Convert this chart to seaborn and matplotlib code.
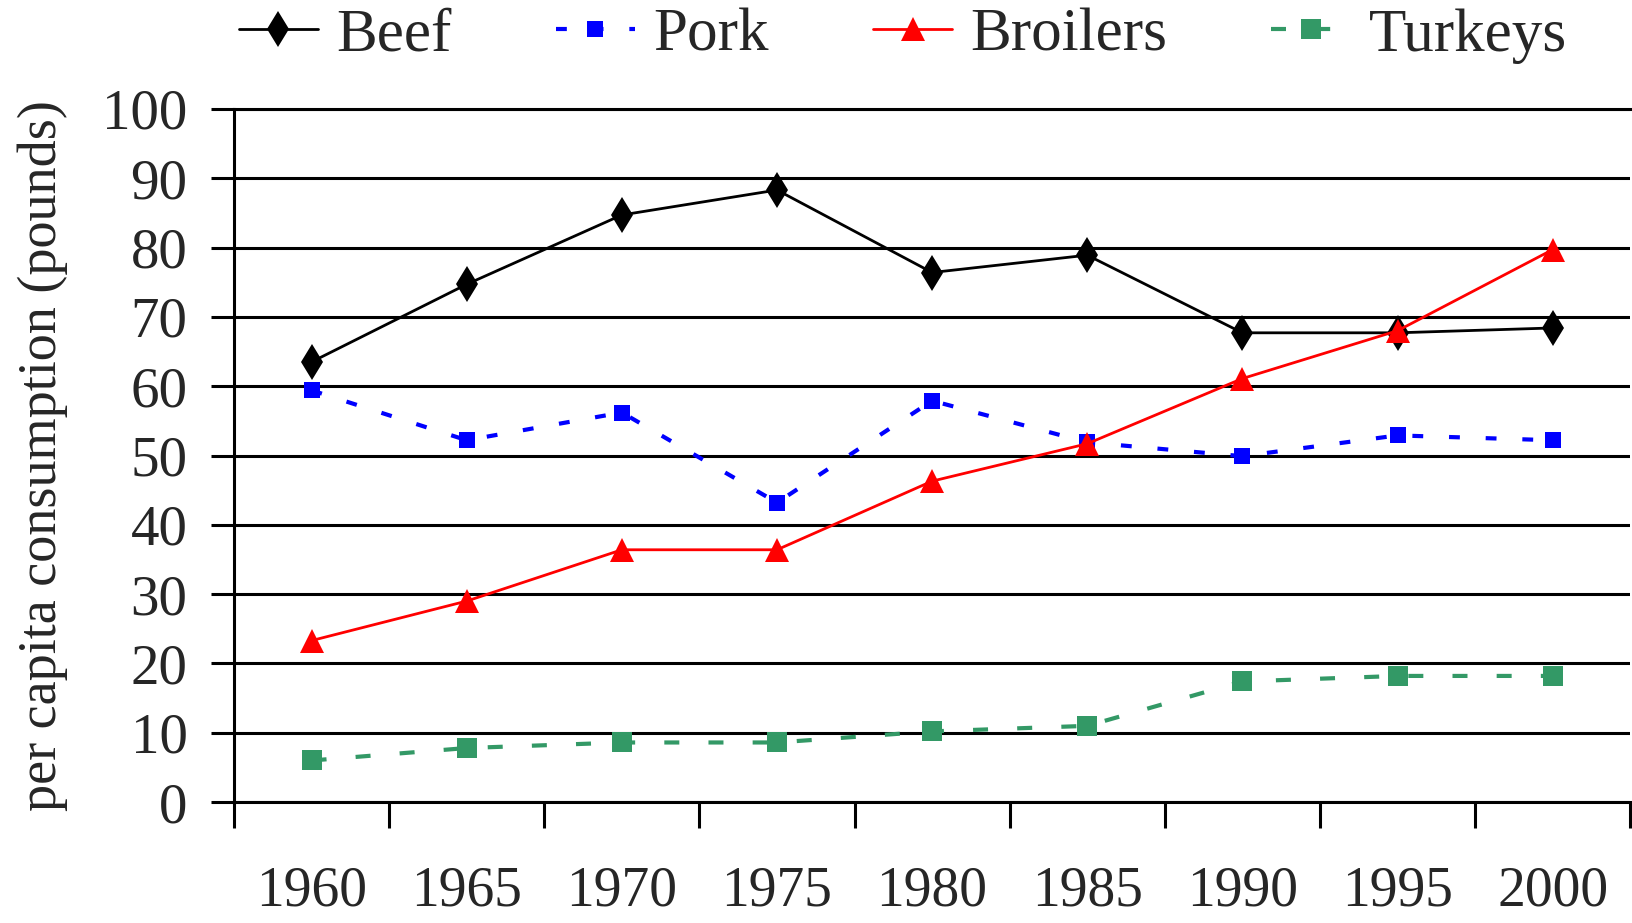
import matplotlib
matplotlib.use("Agg")
import matplotlib.pyplot as plt
import seaborn as sns
import pandas as pd
from matplotlib.ticker import FixedLocator, NullFormatter

years = ["1960", "1965", "1970", "1975", "1980", "1985", "1990", "1995", "2000"]
beef = [63.5, 74.7, 84.7, 88.3, 76.4, 78.9, 67.7, 67.7, 68.4]
pork = [59.4, 52.2, 56.2, 43.2, 57.9, 51.9, 49.9, 52.9, 52.2]
broilers = [23.3, 29.0, 36.4, 36.4, 46.3, 51.7, 61.1, 68.0, 79.7]
turkeys = [6.0, 7.8, 8.6, 8.6, 10.2, 11.0, 17.4, 18.2, 18.2]
series_names = ["Beef", "Pork", "Broilers", "Turkeys"]
y_ticks = [0, 10, 20, 30, 40, 50, 60, 70, 80, 90, 100]

sns.set_style("white")
plt.rcParams["font.family"] = ["Liberation Serif", "DejaVu Serif"]

fig = plt.figure(figsize=(16.33, 9.23), dpi=100)
ax = fig.add_axes([0.1433, 0.131, 0.855, 0.751])

styles = {
    "Beef": dict(color="black", marker="d", markersize=18, lw=2.0, ls="-"),
    "Pork": dict(color="#0000FF", marker="s", markersize=12, lw=3.0, ls=(0, (2.6, 6.2))),
    "Broilers": dict(color="#FF0000", marker="^", markersize=17, lw=2.0, ls="-"),
    "Turkeys": dict(color="#339966", marker="s", markersize=14, lw=3.0, ls=(0, (3.6, 7.0))),
}
data = {"Beef": beef, "Pork": pork, "Broilers": broilers, "Turkeys": turkeys}

for name in series_names:
    st = styles[name]
    df = pd.DataFrame({"year": years, "value": data[name]})
    sns.lineplot(data=df, x="year", y="value", ax=ax, color=st["color"],
                 marker=st["marker"], markersize=st["markersize"],
                 markeredgewidth=0, lw=st["lw"], linestyle=st["ls"],
                 label=name, zorder=3)

ax.set_xlim(-0.5, len(years) - 0.5)
ax.set_ylim(0, 100)
ax.set_yticks(y_ticks)
ax.set_yticklabels([str(v) for v in y_ticks])
ax.grid(axis="y", color="black", lw=2.2)
ax.grid(axis="x", visible=False)

# x: boundary ticks (major, unlabeled) + centered labels (minor)
ax.xaxis.set_major_locator(FixedLocator([i - 0.5 for i in range(len(years) + 1)]))
ax.xaxis.set_major_formatter(NullFormatter())
ax.xaxis.set_minor_locator(FixedLocator(list(range(len(years)))))
ax.set_xticklabels(years, minor=True)
ax.tick_params(axis="x", which="major", direction="out", length=19, width=2.2, color="black", bottom=True)
ax.tick_params(axis="x", which="minor", length=0, pad=46, labelsize=40, bottom=True)
ax.tick_params(axis="y", direction="out", length=16.5, width=2.2, color="black", pad=17, labelsize=41, left=True)

for side in ["left", "top", "bottom"]:
    ax.spines[side].set_visible(True)
    ax.spines[side].set_color("black")
    ax.spines[side].set_linewidth(2.2)
ax.spines["right"].set_visible(False)

ax.set_xlabel("")
ax.set_ylabel("per capita consumption (pounds)", fontsize=39)
ax.yaxis.set_label_coords(-0.119, 0.5)

handles, labels = ax.get_legend_handles_labels()
ax.legend(handles, labels, loc="center", bbox_to_anchor=(0.553, 0.961),
          bbox_transform=fig.transFigure, ncol=4, frameon=False, fontsize=44,
          handlelength=1.3, handletextpad=0.3, columnspacing=1.7)

fig.savefig("out.png", dpi=100)
